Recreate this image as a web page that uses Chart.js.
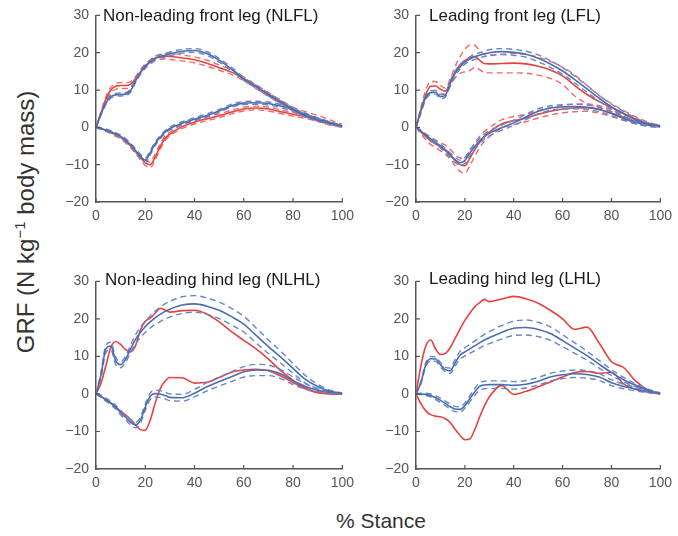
<!DOCTYPE html>
<html><head><meta charset="utf-8">
<script src="https://cdn.jsdelivr.net/npm/chart.js@4/dist/chart.umd.min.js"></script>
<style>
html,body{margin:0;padding:0;background:#fff;width:678px;height:536px;overflow:hidden;position:relative;font-family:"Liberation Sans",Arial,sans-serif;}
.p{position:absolute;}
.ttl{position:absolute;font-size:17px;line-height:17px;color:#1a1a1a;white-space:nowrap;}
#ylab{position:absolute;left:26px;top:222px;transform:translate(-50%,-50%) rotate(-90deg);font-size:24px;color:#333;white-space:nowrap;}
#ylab sup{font-size:15px;vertical-align:9px;line-height:0;}
#xlab{position:absolute;left:381px;top:521px;transform:translate(-50%,-50%);font-size:21px;color:#333;white-space:nowrap;}
</style></head><body>
<canvas id="c1" class="p" width="304" height="226" style="left:56px;top:0px;width:304px;height:226px"></canvas>
<canvas id="c2" class="p" width="302" height="226" style="left:376px;top:0px;width:302px;height:226px"></canvas>
<canvas id="c3" class="p" width="304" height="227" style="left:56px;top:266px;width:304px;height:227px"></canvas>
<canvas id="c4" class="p" width="302" height="227" style="left:376px;top:266px;width:302px;height:227px"></canvas>
<div class="ttl" style="left:103px;top:7px">Non-leading front leg (NLFL)</div>
<div class="ttl" style="left:429px;top:7px">Leading front leg (LFL)</div>
<div class="ttl" style="left:105px;top:271px">Non-leading hind leg (NLHL)</div>
<div class="ttl" style="left:429px;top:270px">Leading hind leg (LHL)</div>
<div id="ylab">GRF (N kg<sup>−1</sup> body mass)</div>
<div id="xlab">% Stance</div>
<script>
// % stance sample points
const X = [0,2,4,6,8,10,12,14,16,18,20,22,24,26,28,30,35,40,45,50,55,60,65,70,75,80,85,90,95,100];
const X_TICKS = [0,20,40,60,80,100];
const Y_TICKS = [-20,-10,0,10,20,30];

// NLFL
const NLFL_BV    = [0,3.5,6.5,8.2,8.7,8.8,8.9,9.8,12.3,14.6,16.4,17.6,18.5,19,19.3,19.7,20.4,20.6,19.8,18,15.6,13,10.9,8.8,6.8,4.8,3.1,2,1.1,0.3];
const NLFL_BV_SD = [0,0.3,0.4,0.4,0.4,0.4,0.4,0.4,0.4,0.4,0.4,0.4,0.4,0.4,0.5,0.5,0.5,0.5,0.5,0.5,0.5,0.4,0.4,0.4,0.4,0.4,0.4,0.3,0.3,0.2];
const NLFL_RV    = [0,3.8,7.5,10,11,11.2,11.2,11.5,13,14.8,16.4,17.5,18.5,18.9,19.1,19,18.6,18.1,17.2,16,14.8,13,10.9,8.8,6.8,4.9,3.5,2.4,1.3,0.4];
const NLFL_RV_SD = [0,0.4,0.6,0.7,0.8,0.8,0.8,0.7,0.6,0.6,0.6,0.6,0.6,0.7,0.7,0.8,0.8,0.8,0.8,0.7,0.6,0.5,0.5,0.5,0.5,0.5,0.7,0.8,0.7,0.4];
const NLFL_BF    = [0,-0.3,-0.7,-1.2,-1.8,-2.4,-3.4,-4.6,-6.2,-7.7,-8.8,-6.8,-4.4,-2.7,-1.3,-0.3,1.1,2.2,3.2,4.4,5.8,6.5,6.6,6.4,5.7,4.7,3.5,2.3,1.2,0.3];
const NLFL_BF_SD = [0,0.2,0.3,0.3,0.3,0.4,0.4,0.4,0.5,0.5,0.6,0.6,0.5,0.4,0.4,0.4,0.4,0.4,0.4,0.4,0.4,0.4,0.4,0.4,0.4,0.4,0.3,0.3,0.3,0.2];
const NLFL_RF    = [0,-0.3,-0.8,-1.4,-2,-2.7,-3.8,-5,-6.5,-8,-9.5,-10,-8,-5.2,-3,-1.8,0.2,1.4,2.3,3.1,4.1,4.9,5.2,4.9,4.2,3.5,2.9,2,1.1,0.3];
const NLFL_RF_SD = [0,0.2,0.3,0.3,0.4,0.4,0.4,0.5,0.5,0.6,0.7,0.8,0.8,0.7,0.6,0.5,0.5,0.5,0.5,0.5,0.5,0.5,0.5,0.5,0.5,0.5,0.5,0.4,0.3,0.2];

// LFL
const LFL_BV    = [0,4.5,8,9.3,9.4,8.2,8.6,11.8,14.5,16.2,17.5,18.3,18.9,19.3,19.7,20,20.3,20.1,19.6,18.5,17,15.1,12.8,10.3,7.8,5.5,3.7,2,0.9,0.3];
const LFL_BV_SD = [0,0.3,0.4,0.5,0.5,0.5,0.5,0.6,0.6,0.6,0.6,0.6,0.7,0.7,0.7,0.8,0.8,0.8,0.8,0.9,0.9,0.9,0.9,0.9,0.8,0.7,0.6,0.5,0.3,0.2];
const LFL_RV    = [0,4.5,8.8,11,11.1,10.2,9.7,12,14.8,16.7,17.9,18.6,19,18,17.1,17,17.1,17.2,17,16.4,15.4,13.8,11.2,8.8,6.9,5.3,3.7,2.2,1,0.3];
const LFL_RV_SD = [0,0.8,1.2,1.3,1.2,1,0.8,1,1.5,2.2,3,3.4,3,2.5,2.4,2.4,2.5,2.6,2.5,2.4,2.3,2.3,2.8,2.4,1.6,1.1,0.8,0.6,0.4,0.2];
const LFL_BF    = [0,-1,-2.1,-3.1,-4,-5,-6.2,-7.5,-8.7,-9.5,-8.9,-6.9,-5.2,-3.7,-2.5,-1.6,-0.1,1.2,2.8,4.3,5.2,5.5,5.6,5.4,4.8,3.7,2.4,1.3,0.6,0.2];
const LFL_BF_SD = [0,0.2,0.3,0.4,0.5,0.5,0.6,0.6,0.7,0.7,0.8,0.8,0.7,0.7,0.7,0.7,0.7,0.7,0.7,0.7,0.6,0.6,0.6,0.6,0.6,0.5,0.5,0.4,0.3,0.2];
const LFL_RF    = [0,-1.2,-2.5,-3.6,-4.4,-5.2,-6,-7.2,-8.8,-10,-10.3,-8.3,-6,-4,-2.4,-1.3,0.9,1.8,2.5,3.5,4.3,4.9,5.2,5.3,4.8,3.8,2.7,1.6,0.7,0.2];
const LFL_RF_SD = [0,0.5,0.8,1,1,1.1,1.2,1.3,1.5,1.8,2,2,1.8,1.5,1.3,1.2,1.1,1.1,1,1,1,1,1,1,1,0.9,0.8,0.6,0.4,0.2];

// NLHL
const NLHL_BV    = [0,5,12,12.8,8.8,7.8,9.2,12,14.5,16.4,17.9,19.2,20.3,21.2,22,22.6,23.7,24,23.4,22.3,20.6,18.6,15.6,12.6,9.8,6.8,3.9,2,0.7,0.2];
const NLHL_BV_SD = [0,0.8,1,1,1,0.8,0.8,1,1.2,1.4,1.5,1.6,1.8,1.9,2,2.1,2.2,2.2,2.2,2.2,2.2,2.1,2,1.8,1.6,1.3,1,0.6,0.3,0.1];
const NLHL_RV    = [0,2.8,7.5,12.4,14,13.2,11.8,11.2,12.8,17,19.4,20.2,21.5,22.8,22.4,21.8,22.2,22.3,21.3,19.2,16.6,14.3,12,9.3,6.2,3.6,1.5,0.4,0.1,0];
const NLHL_BF    = [0,-0.6,-1.5,-2.4,-3.5,-5,-6.2,-7.5,-8.3,-7,-3.5,-0.6,0.1,0,-0.4,-0.9,-1,0.2,1.9,3.3,4.6,5.9,6.4,6.3,5.3,3.5,2,1,0.4,0.1];
const NLHL_BF_SD = [0,0.3,0.4,0.5,0.5,0.6,0.6,0.7,0.7,0.8,0.9,0.9,0.9,0.9,0.9,0.9,0.9,1,1.1,1.2,1.3,1.4,1.5,1.4,1.2,1,0.7,0.4,0.2,0.1];
const NLHL_RF    = [0,-0.7,-1.6,-2.5,-3.5,-4.6,-5.6,-6.8,-8.2,-9.5,-9.7,-7,-2.5,1.3,3.4,4.4,4.3,2.9,3.1,4.4,5.8,6.4,6.6,6.2,4.8,3,1.4,0.3,0,0];

// LHL
const LHL_BV    = [0,3,7.8,9.4,9.3,7.8,6.5,6.2,8.3,10.3,11.2,12,12.8,13.6,14.4,15,16.4,17.5,17.7,17.2,16.1,14.2,12.2,10.2,7.9,5.7,3.8,2.3,1,0.2];
const LHL_BV_SD = [0,0.3,0.5,0.6,0.6,0.6,0.6,0.7,0.9,1,1.1,1.2,1.3,1.4,1.5,1.6,1.8,1.9,2,1.9,1.8,1.6,1.4,1.2,1,0.8,0.6,0.4,0.3,0.1];
const LHL_RV    = [0,7.5,12.8,14.4,12,10.5,10.8,12.3,14.8,17.3,19.6,21.5,23.2,24.3,25.2,24.6,25.3,26,25.4,24.2,22.3,20,17.2,17.8,13.5,8.6,7,3.4,1,0];
const LHL_BF    = [0,0,-0.1,-0.4,-1,-1.7,-2.5,-3.4,-4,-4.1,-3.1,-1.3,0.5,2,2.4,2.5,2.5,2.3,2.6,3.4,4.5,5.1,5.4,5.2,4.5,3,2,1.3,0.6,0.1];
const LHL_BF_SD = [0,0.2,0.3,0.4,0.5,0.6,0.6,0.7,0.7,0.7,0.7,0.8,0.9,1,1,1,1,1,1,1,1,1,1,1,0.9,0.8,0.6,0.5,0.3,0.1];
const LHL_RF    = [0,-2.6,-4.5,-5.5,-5.9,-6.1,-6.6,-7.6,-9.4,-11,-12.2,-12,-9.6,-6.2,-3.2,-0.8,2.3,-0.1,0.7,1.9,3.2,4.5,5.7,6,5.5,5.8,2.7,1.2,0.5,0];

const BLUE='#4c6cb0', BLUE_D='#6687c6', RED='#e8413f', RED_D='#ef6a66';
const FONT = '"Liberation Sans", Arial, sans-serif';

function pts(arr){ return X.map((x,i)=>({x:x,y:arr[i]})); }
function band(m, sd, s){ return X.map((x,i)=>({x:x,y:m[i]+s*sd[i]})); }
function solid(arr,c){ return {data:pts(arr),borderColor:c,borderWidth:1.6}; }
function dash(m,sd,s,c){ return {data:band(m,sd,s),borderColor:c,borderWidth:1.4,borderDash:[6,4]}; }
function group(m,sd,c,cd){ const out=[solid(m,c)]; if(sd){ out.push(dash(m,sd,1,cd)); out.push(dash(m,sd,-1,cd)); } return out; }

const inTicks = {id:'inTicks', afterDraw(chart){
  const {ctx, chartArea:a, scales:{x,y}} = chart;
  ctx.save(); ctx.strokeStyle='#555'; ctx.lineWidth=1.2; ctx.beginPath();
  X_TICKS.forEach(v=>{const px=x.getPixelForValue(v); ctx.moveTo(px,a.bottom); ctx.lineTo(px,a.bottom-4);});
  Y_TICKS.forEach(v=>{const py=y.getPixelForValue(v); ctx.moveTo(a.left,py); ctx.lineTo(a.left+4,py);});
  ctx.stroke(); ctx.restore();
}};

function make(id, rightPad, datasets){
  new Chart(document.getElementById(id), {
    type:'line',
    data:{datasets:datasets},
    options:{
      responsive:false, animation:false, devicePixelRatio:1,
      layout:{padding:{left:0,right:rightPad,top:9.5,bottom:0}},
      plugins:{legend:{display:false}, tooltip:{enabled:false}},
      elements:{point:{radius:0}, line:{cubicInterpolationMode:'monotone', fill:false}},
      scales:{
        x:{type:'linear', min:0, max:100,
           afterBuildTicks:s=>{s.ticks=X_TICKS.map(v=>({value:v}));},
           afterFit:s=>{s.height=24;},
           grid:{display:true, drawOnChartArea:false, drawTicks:false},
           border:{display:true, color:'#555', width:1.5},
           ticks:{padding:6, color:'#555', font:{size:14, family:FONT}, maxRotation:0, autoSkip:false}},
        y:{type:'linear', min:-20, max:30,
           afterBuildTicks:s=>{s.ticks=Y_TICKS.map(v=>({value:v}));},
           afterFit:s=>{s.width=40;},
           grid:{display:true, drawOnChartArea:false, drawTicks:false},
           border:{display:true, color:'#555', width:1.5},
           ticks:{padding:7, color:'#555', font:{size:14, family:FONT}, autoSkip:false,
                  callback:v=>String(v).replace('-','\u2212')}}
      }
    },
    plugins:[inTicks]
  });
}

make('c1', 14, [].concat(
  group(NLFL_BV,NLFL_BV_SD,BLUE,BLUE_D), group(NLFL_BF,NLFL_BF_SD,BLUE,BLUE_D),
  group(NLFL_RV,NLFL_RV_SD,RED,RED_D), group(NLFL_RF,NLFL_RF_SD,RED,RED_D)));
make('c2', 12, [].concat(
  group(LFL_BV,LFL_BV_SD,BLUE,BLUE_D), group(LFL_BF,LFL_BF_SD,BLUE,BLUE_D),
  group(LFL_RV,LFL_RV_SD,RED,RED_D), group(LFL_RF,LFL_RF_SD,RED,RED_D)));
make('c3', 14, [].concat(
  group(NLHL_BV,NLHL_BV_SD,BLUE,BLUE_D), group(NLHL_BF,NLHL_BF_SD,BLUE,BLUE_D),
  group(NLHL_RV,null,RED), group(NLHL_RF,null,RED)));
make('c4', 12, [].concat(
  group(LHL_BV,LHL_BV_SD,BLUE,BLUE_D), group(LHL_BF,LHL_BF_SD,BLUE,BLUE_D),
  group(LHL_RV,null,RED), group(LHL_RF,null,RED)));
</script>
</body></html>
